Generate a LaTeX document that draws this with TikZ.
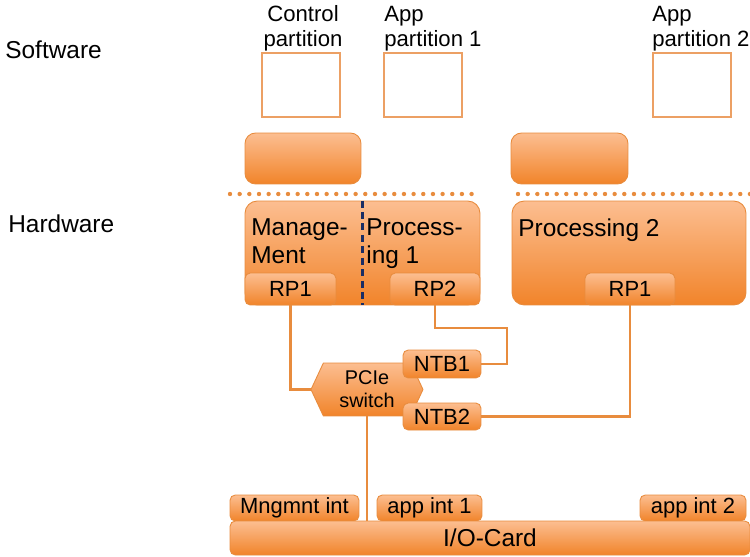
\documentclass[tikz,border=0pt]{standalone}
\usepackage{fontspec}
\setmainfont{Liberation Sans}
\usetikzlibrary{shapes.symbols}
\definecolor{boxtop}{RGB}{252,190,145}
\definecolor{boxbot}{RGB}{241,132,42}
\definecolor{boxline}{RGB}{232,140,62}
\definecolor{partline}{RGB}{236,160,100}
\definecolor{navy}{RGB}{25,45,100}

\tikzset{
  obox/.style={draw=boxline, line width=0.5pt, top color=boxtop, bottom color=boxbot,
    inner sep=0pt, rounded corners=3pt},
  bigbox/.style={obox, rounded corners=7pt},
  partbox/.style={draw=partline, line width=0.8pt, fill=white, inner sep=0pt,
    minimum width=1.56cm, minimum height=1.28cm},
  txt/.style={inner sep=0pt, font=\fontsize{13.9}{14}\selectfont},
  parttxt/.style={inner sep=0pt, font=\fontsize{12.6}{14}\selectfont},
  smalltxt/.style={font=\fontsize{12.5}{13}\selectfont},
  link/.style={draw=boxline, line width=1.4pt}
}

\begin{document}
\begin{tikzpicture}[x=0.02cm, y=-0.02cm]
  \useasboundingbox (0,0) rectangle (750,557);

  \node[txt, anchor=west] (sw-lbl) at (5,50) {Software};
  \node[txt, anchor=west] (hw-lbl) at (8,224) {Hardware};

  % partitions
  \node[partbox] (ctl) at (301,85) {};
  \node[partbox] (app1) at (423,85) {};
  \node[partbox] (app2) at (692,85) {};
  \node[parttxt, align=center, anchor=south] (ctl-lbl) at (303,51) {Control\\partition};
  \node[parttxt, align=left, anchor=south west] (app1-lbl) at (384,51) {App\\partition 1};
  \node[parttxt, align=left, anchor=south west] (app2-lbl) at (652,51) {App\\partition 2};

  \node[obox, rounded corners=6pt, minimum width=2.32cm, minimum height=1.02cm] (os1) at (303,158.5) {};
  \node[obox, rounded corners=6pt, minimum width=2.34cm, minimum height=1.02cm] (os2) at (569.5,158.5) {};

  \draw[boxline, line width=2.5pt, line cap=round, dash pattern=on 0pt off 5.5pt] (230,194) -- (480,194);
  \draw[boxline, line width=2.5pt, line cap=round, dash pattern=on 0pt off 5.5pt] (518,194) -- (750,194);

  % hardware
  \node[bigbox, minimum width=4.7cm, minimum height=2.08cm] (mp) at (362.5,253) {};
  \node[bigbox, minimum width=4.68cm, minimum height=2.08cm] (p2) at (629,253) {};
  \node[txt, align=left, anchor=north west, font=\fontsize{13.9}{16.3}\selectfont] (mgmt) at (251,218) {Manage-\\Ment};
  \node[txt, align=left, anchor=north west, font=\fontsize{13.9}{16.3}\selectfont] (proc1) at (366,218) {Process-\\ing 1};
  \node[txt, anchor=north west] (proc2) at (518,218) {Processing 2};
  \node[obox, smalltxt, minimum width=1.82cm, minimum height=0.64cm] (rpa) at (290.5,289) {RP1};
  \node[obox, smalltxt, minimum width=1.8cm, minimum height=0.64cm] (rpb) at (435,289) {RP2};
  \node[obox, smalltxt, minimum width=1.8cm, minimum height=0.64cm] (rpc) at (630,289) {RP1};
  \draw[navy, line width=1.2pt, dash pattern=on 4pt off 2.5pt] (mp.north) -- (mp.south);

  \node[obox, rounded corners=0pt, signal, signal to=west and east, signal pointer angle=130,
    align=center, font=\fontsize{11.3}{13}\selectfont,
    minimum width=2.24cm, minimum height=1.06cm] (pcie) at (367,389.5) {PCIe\\switch};
  \node[obox, smalltxt, minimum width=1.56cm, minimum height=0.56cm] (ntba) at (442,364) {NTB1};
  \node[obox, smalltxt, minimum width=1.56cm, minimum height=0.54cm] (ntbb) at (442,416.5) {NTB2};

  \node[obox, smalltxt, minimum width=2.58cm, minimum height=0.52cm] (mint) at (294.5,508) {Mngmnt int};
  \node[obox, smalltxt, minimum width=2.1cm, minimum height=0.52cm] (aint1) at (429.5,508) {app int 1};
  \node[obox, smalltxt, minimum width=2.12cm, minimum height=0.52cm] (aint2) at (693,508) {app int 2};
  \node[obox, txt, minimum width=10.4cm, minimum height=0.68cm] (io) at (490,538) {I/O-Card};

  \coordinate (bend) at (507,328);
  \draw[link] (rpa.south) |- (pcie.west);
  \draw[link] (rpb.south) |- (bend) |- (ntba.east);
  \draw[link] (ntbb.east) -| (rpc.south);
  \draw[link] (pcie.south) -- (pcie.south |- io.north);
\end{tikzpicture}
\end{document}
